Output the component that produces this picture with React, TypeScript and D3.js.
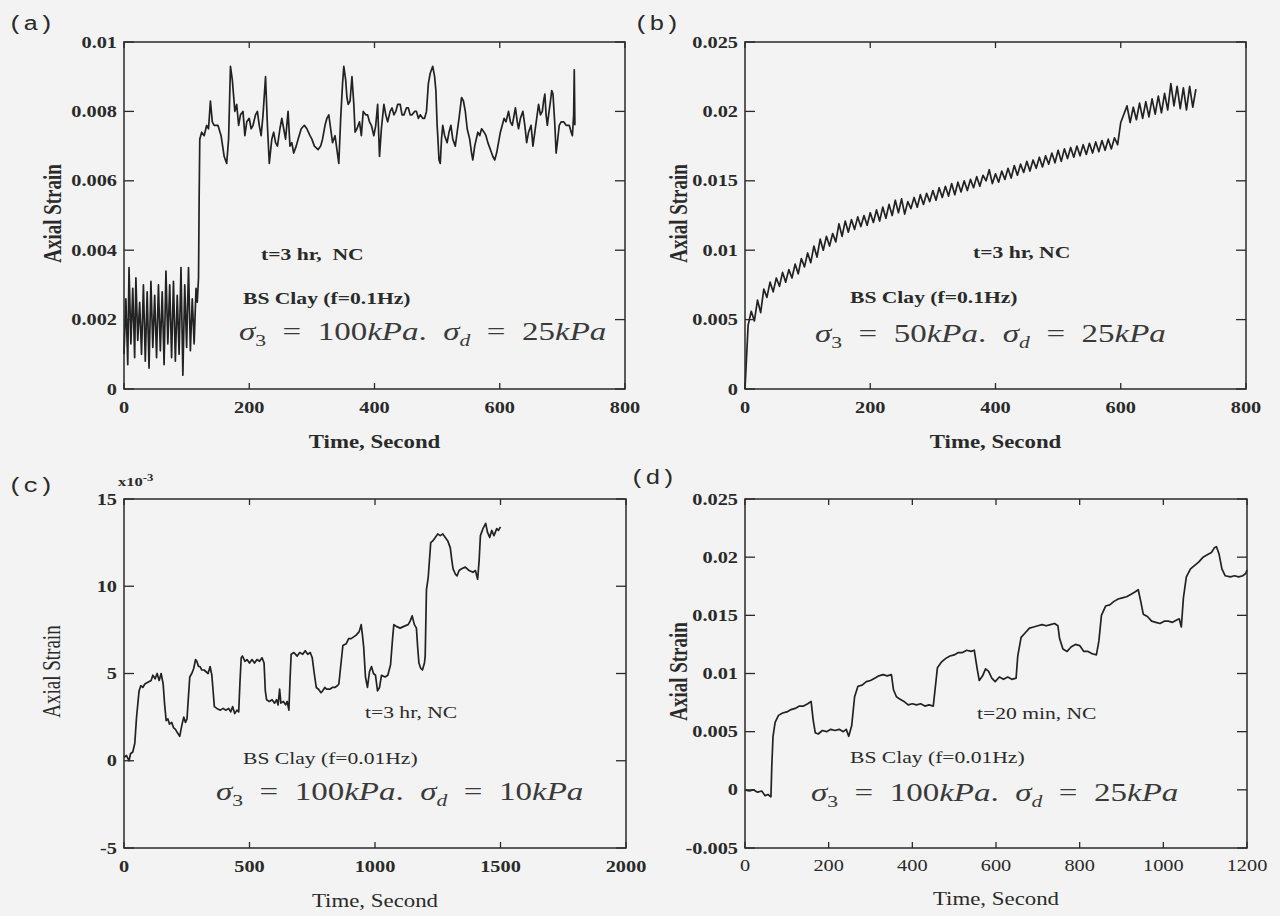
import React from 'react';
import * as d3 from 'd3';

// ---------------- DATA ----------------
// Panel (a): [time s, axial strain x1e-3]
const A_POINTS: [number, number][] = [
  [0,1.0],[3,2.6],[6,0.7],[8,3.5],[11,1.3],[14,2.9],[17,0.9],[19,3.2],[22,1.4],[25,2.5],[28,1.0],[31,3.0],[34,0.8],[37,2.8],[40,0.6],[43,3.1],[46,1.2],[49,2.7],[52,0.9],[55,3.0],[58,1.1],[61,2.8],[64,0.7],[67,3.4],[70,1.3],[73,3.0],[76,0.9],[79,3.1],[82,0.8],[85,2.7],[88,1.0],[91,3.5],[94,0.4],[97,3.0],[100,1.2],[103,3.5],[106,1.1],[109,2.6],[112,1.3],[115,2.9],[117,2.5],[119,3.2],[120,5.5],[121,7.2],[124,7.4],[128,7.3],[132,7.6],[135,7.5],[138,8.3],[141,7.7],[144,7.6],[150,7.6],[155,7.3],[160,6.7],[164,6.5],[167,7.2],[170,9.3],[173,8.9],[177,8.0],[180,8.2],[183,7.6],[186,7.9],[190,8.0],[193,7.3],[196,7.7],[200,7.8],[203,7.5],[206,7.6],[210,7.9],[213,8.0],[216,7.6],[219,7.3],[222,7.9],[226,9.0],[229,7.6],[232,6.5],[236,7.2],[239,7.4],[242,7.1],[245,7.0],[249,7.5],[252,7.8],[255,7.5],[258,7.2],[262,8.0],[265,7.0],[268,7.1],[271,6.8],[275,7.0],[278,7.2],[283,7.5],[288,7.6],[292,7.5],[297,7.3],[300,7.2],[304,7.0],[310,6.9],[314,7.0],[317,7.2],[321,7.6],[324,7.8],[327,7.9],[330,7.5],[333,7.1],[337,7.3],[340,6.9],[343,6.5],[346,7.8],[349,8.8],[351,9.3],[354,8.9],[356,8.4],[358,8.2],[361,8.3],[364,9.0],[367,8.2],[369,7.4],[372,7.5],[376,7.7],[379,7.3],[382,8.0],[386,7.9],[389,7.9],[392,7.7],[395,7.6],[399,7.3],[402,7.6],[405,8.2],[408,6.7],[411,7.5],[415,8.2],[418,7.9],[421,7.7],[425,8.0],[428,8.1],[431,7.9],[434,8.0],[437,8.2],[441,8.2],[444,7.9],[447,7.9],[451,8.1],[454,8.1],[457,7.9],[460,7.9],[464,8.0],[467,8.0],[470,7.8],[473,7.9],[477,7.8],[480,7.8],[483,8.0],[486,8.8],[489,9.1],[493,9.3],[496,9.0],[498,8.6],[500,7.6],[501,7.3],[503,6.6],[505,6.5],[507,7.2],[509,7.6],[512,7.3],[516,7.1],[519,7.4],[522,7.6],[525,7.2],[529,7.0],[532,7.4],[535,7.8],[539,8.4],[542,8.3],[545,8.0],[548,7.5],[552,7.2],[555,6.8],[557,6.6],[560,7.0],[565,7.4],[568,7.3],[571,7.5],[575,7.4],[578,7.3],[581,7.1],[585,6.9],[589,6.7],[592,6.6],[595,6.8],[598,7.1],[601,7.4],[604,7.6],[607,7.8],[610,7.7],[614,8.0],[617,7.7],[620,7.6],[623,7.9],[625,8.1],[628,7.7],[630,7.5],[633,7.8],[637,8.0],[640,7.6],[643,7.1],[646,7.4],[650,7.6],[653,7.0],[656,7.4],[659,7.8],[662,8.2],[665,7.9],[668,8.0],[670,8.3],[672,8.5],[674,7.9],[676,7.6],[678,7.9],[681,8.3],[683,8.6],[685,8.5],[688,7.6],[690,6.8],[692,7.1],[695,7.6],[698,7.7],[702,7.7],[706,7.6],[711,7.6],[714,7.4],[716,7.3],[718,7.9],[719,9.2],[720,7.6]
];

// Panel (b): [time s, axial strain x1e-3]
const B_POINTS: [number, number][] = [
  [0,0.0],[5,4.6],[10,5.6],[15,4.9],[20,6.4],[25,5.5],[30,7.2],[35,6.6],[40,7.7],[45,7.0],[50,8.0],[55,7.4],[60,8.4],[65,7.7],[70,8.6],[75,8.0],[80,9.0],[85,8.3],[90,9.4],[95,8.8],[100,9.8],[105,9.1],[110,10.3],[115,9.5],[120,10.8],[125,10.0],[130,11.0],[135,10.3],[140,11.2],[145,10.6],[150,11.9],[155,11.0],[160,12.1],[165,11.3],[170,12.2],[175,11.5],[180,12.4],[185,11.7],[190,12.5],[195,11.8],[200,12.7],[205,12.0],[210,12.9],[215,12.1],[220,13.1],[225,12.3],[230,13.3],[235,12.5],[240,13.6],[245,12.7],[250,13.7],[255,12.6],[260,13.5],[265,13.0],[270,13.8],[275,13.1],[280,14.0],[285,13.3],[290,14.1],[295,13.5],[300,14.3],[305,13.6],[310,14.5],[315,13.8],[320,14.6],[325,13.9],[330,14.8],[335,14.0],[340,14.9],[345,14.2],[350,15.0],[355,14.3],[360,15.1],[365,14.5],[370,15.3],[375,14.6],[380,15.4],[385,15.0],[390,15.8],[395,14.8],[400,15.5],[405,14.9],[410,15.7],[415,15.1],[420,15.9],[425,15.2],[430,16.1],[435,15.4],[440,16.2],[445,15.6],[450,16.4],[455,15.7],[460,16.5],[465,15.9],[470,16.7],[475,16.0],[480,16.8],[485,16.2],[490,17.0],[495,16.3],[500,17.2],[505,16.4],[510,17.3],[515,16.6],[520,17.4],[525,16.7],[530,17.5],[535,16.8],[540,17.6],[545,16.9],[550,17.7],[555,17.0],[560,17.8],[565,17.1],[570,17.9],[575,17.2],[580,18.0],[585,17.3],[590,18.1],[595,17.6],[600,19.2],[605,19.8],[610,20.4],[615,19.2],[620,20.3],[625,19.4],[630,20.6],[635,19.5],[640,20.7],[645,19.6],[650,20.9],[655,19.8],[660,21.1],[665,19.9],[670,21.3],[675,20.1],[680,22.0],[685,20.4],[690,21.8],[695,20.2],[700,21.7],[705,20.1],[710,21.8],[715,20.3],[720,21.6]
];

// Panel (c): [time s, axial strain x1e-3]
const C_POINTS: [number, number][] = [
  [0,0.2],[10,0.3],[20,0.0],[26,0.4],[35,0.5],[43,1.0],[50,2.5],[60,4.0],[67,4.3],[75,4.2],[83,4.4],[95,4.5],[108,4.6],[115,4.9],[124,4.7],[132,5.0],[140,4.6],[148,5.0],[156,4.4],[162,3.2],[168,2.3],[175,2.4],[181,2.1],[190,2.2],[197,1.9],[205,1.8],[213,1.6],[222,1.4],[230,2.0],[238,2.5],[245,2.2],[251,2.4],[256,3.5],[262,4.8],[270,5.0],[278,5.3],[285,5.8],[290,5.7],[297,5.4],[303,5.4],[310,5.2],[319,5.2],[327,5.1],[335,5.0],[343,5.4],[350,4.9],[355,4.0],[360,3.1],[370,3.0],[384,2.9],[395,3.0],[405,2.9],[417,3.0],[425,2.8],[433,3.1],[441,2.7],[450,2.9],[457,2.8],[462,4.5],[467,5.9],[472,6.0],[482,5.7],[490,5.8],[500,5.6],[510,5.8],[520,5.6],[530,5.8],[540,5.7],[550,5.9],[558,5.6],[563,4.0],[568,3.5],[579,3.4],[590,3.5],[600,3.3],[608,3.5],[614,3.2],[620,4.1],[625,3.3],[635,3.4],[644,3.2],[650,3.4],[657,2.9],[661,4.5],[666,6.1],[677,6.2],[690,6.0],[700,6.2],[712,6.1],[722,6.3],[732,6.1],[742,6.2],[750,5.9],[758,5.0],[766,4.2],[775,4.1],[785,3.9],[791,4.0],[800,4.2],[807,4.1],[820,4.1],[830,4.2],[840,4.2],[850,4.3],[856,4.4],[864,5.5],[872,6.6],[885,6.7],[895,7.0],[905,7.0],[915,7.1],[925,7.2],[937,7.4],[945,7.8],[950,7.2],[955,6.5],[962,4.8],[970,4.2],[978,5.1],[986,5.4],[994,5.0],[1002,4.9],[1010,4.0],[1018,4.2],[1026,4.9],[1040,4.8],[1051,4.9],[1062,5.5],[1070,7.0],[1075,7.8],[1085,7.7],[1100,7.6],[1115,7.7],[1132,7.8],[1140,8.0],[1148,8.3],[1157,7.8],[1165,7.6],[1170,6.5],[1175,5.6],[1182,5.3],[1189,5.2],[1197,5.6],[1200,6.0],[1205,9.8],[1212,10.5],[1222,12.5],[1230,12.6],[1240,12.8],[1250,13.0],[1260,12.9],[1270,13.0],[1280,12.8],[1290,12.6],[1300,12.2],[1306,11.5],[1311,11.0],[1320,10.7],[1327,10.6],[1335,10.9],[1345,11.0],[1360,11.1],[1375,10.9],[1390,10.8],[1400,10.9],[1409,10.4],[1415,11.5],[1420,12.9],[1430,13.3],[1441,13.6],[1448,13.1],[1457,12.8],[1465,13.2],[1474,12.9],[1485,13.3],[1492,13.2],[1500,13.4]
];

// Panel (d): [time s, axial strain x1e-3]
const D_POINTS: [number, number][] = [
  [0,0.0],[10,-0.1],[20,0.0],[30,-0.2],[40,-0.1],[48,-0.5],[55,-0.4],[62,-0.6],[64,2.0],[67,4.6],[72,5.8],[80,6.4],[90,6.6],[100,6.7],[110,6.9],[120,7.0],[130,7.2],[140,7.2],[150,7.4],[158,7.6],[163,6.0],[168,4.9],[175,4.8],[185,5.1],[195,5.0],[205,5.2],[215,5.1],[225,5.2],[235,5.0],[242,5.2],[248,4.6],[255,5.5],[262,8.0],[270,8.9],[280,9.0],[290,9.3],[300,9.4],[310,9.6],[320,9.8],[330,9.9],[340,9.8],[350,9.9],[355,8.6],[362,8.0],[370,7.8],[380,7.6],[390,7.3],[400,7.4],[410,7.3],[420,7.4],[430,7.2],[440,7.3],[450,7.2],[454,8.5],[460,10.5],[470,11.0],[480,11.3],[490,11.5],[500,11.6],[510,11.8],[520,11.8],[530,12.0],[540,11.9],[548,12.0],[555,10.4],[560,9.4],[568,9.8],[575,10.4],[582,10.2],[590,9.6],[598,9.3],[608,9.7],[618,9.5],[628,9.7],[638,9.5],[648,9.6],[652,11.5],[660,13.1],[670,13.5],[680,13.9],[690,14.0],[700,14.1],[710,14.2],[720,14.1],[730,14.2],[740,14.3],[748,14.1],[752,13.0],[760,12.1],[770,11.9],[780,12.3],[790,12.5],[800,12.4],[810,11.9],[820,11.9],[830,11.7],[840,11.6],[846,12.8],[852,15.0],[862,15.8],[872,15.9],[882,16.2],[892,16.4],[902,16.5],[912,16.6],[922,16.8],[932,17.0],[940,17.2],[946,16.2],[952,15.1],[962,14.9],[972,14.5],[982,14.4],[992,14.3],[1002,14.5],[1012,14.5],[1022,14.4],[1032,14.6],[1038,14.7],[1043,14.0],[1048,16.5],[1055,18.3],[1065,19.0],[1075,19.3],[1085,19.6],[1095,20.0],[1105,20.2],[1115,20.4],[1122,20.8],[1127,20.9],[1133,20.3],[1140,19.0],[1148,18.4],[1160,18.3],[1170,18.4],[1180,18.3],[1190,18.4],[1197,18.6],[1200,18.9]
];

// Ticks
const A_X_TICKS = [0, 200, 400, 600, 800];
const A_Y_TICKS = [0, 0.002, 0.004, 0.006, 0.008, 0.01];
const A_Y_LABELS = ['0', '0.002', '0.004', '0.006', '0.008', '0.01'];
const B_X_TICKS = [0, 200, 400, 600, 800];
const B_Y_TICKS = [0, 0.005, 0.01, 0.015, 0.02, 0.025];
const B_Y_LABELS = ['0', '0.005', '0.01', '0.015', '0.02', '0.025'];
const C_X_TICKS = [0, 500, 1000, 1500, 2000];
const C_Y_TICKS = [-0.005, 0, 0.005, 0.01, 0.015];
const C_Y_LABELS = ['-5', '0', '5', '10', '15'];
const D_X_TICKS = [0, 200, 400, 600, 800, 1000, 1200];
const D_Y_TICKS = [-0.005, 0, 0.005, 0.01, 0.015, 0.02, 0.025];
const D_Y_LABELS = ['-0.005', '0', '0.005', '0.01', '0.015', '0.02', '0.025'];

// Annotations
const PANEL_LETTERS = ['(a)', '(b)', '(c)', '(d)'];
const TEST_NOTES = ['t=3 hr,  NC', 't=3 hr, NC', 't=3 hr, NC', 't=20 min, NC'];
const CLAY_NOTES = ['BS Clay (f=0.1Hz)', 'BS Clay (f=0.1Hz)', 'BS Clay (f=0.01Hz)', 'BS Clay (f=0.01Hz)'];
const SIGMA3 = ['100', '50', '100', '100'];
const SIGMAD = ['25', '25', '10', '25'];
const X_TITLE = 'Time, Second';
const Y_TITLE = 'Axial Strain';

// ---------------- STYLE ----------------
const SX = 1.27; // horizontal stretch of the scanned figure's lettering
const INK = '#2a2a2a';
const BG = '#f3f3f3';
const SERIF = '"Liberation Serif", "Times New Roman", serif';
const MONO = '"Liberation Mono", "Courier New", monospace';

type Cfg = {
  left: number; right: number; top: number; bottom: number;
  xDomain: [number, number]; yDomain: [number, number];
  xTicks: number[]; yTicks: number[]; yLabels: string[];
  points: [number, number][];
  letter: string; letterX: number; letterY: number;
  yTitleX: number;
  note: string; noteX: number; noteY: number;
  clay: string; clayX: number; clayY: number;
  s3: string; sd: string; mathX: number; mathY: number;
  xLabY: number; xTitleY: number;
  tickBold: boolean; xTickBold: boolean; yTitleBold: boolean; xTitleBold: boolean; noteBold: boolean;
  exponent?: boolean;
};

const TOP_T = 42, TOP_B = 389, BOT_T = 499, BOT_B = 848;

const PANELS: Cfg[] = [
  {
    left: 124, right: 625, top: TOP_T, bottom: TOP_B, xDomain: [0, 800], yDomain: [0, 0.01],
    xTicks: A_X_TICKS, yTicks: A_Y_TICKS, yLabels: A_Y_LABELS, points: A_POINTS,
    letter: PANEL_LETTERS[0], letterX: 8, letterY: 30, yTitleX: 53,
    note: TEST_NOTES[0], noteX: 261, noteY: 260, clay: CLAY_NOTES[0], clayX: 243, clayY: 304,
    s3: SIGMA3[0], sd: SIGMAD[0], mathX: 239, mathY: 340, xLabY: 413, xTitleY: 448,
    tickBold: true, xTickBold: true, yTitleBold: true, xTitleBold: true, noteBold: true,
  },
  {
    left: 745, right: 1246, top: TOP_T, bottom: TOP_B, xDomain: [0, 800], yDomain: [0, 0.025],
    xTicks: B_X_TICKS, yTicks: B_Y_TICKS, yLabels: B_Y_LABELS, points: B_POINTS,
    letter: PANEL_LETTERS[1], letterX: 634, letterY: 30, yTitleX: 679,
    note: TEST_NOTES[1], noteX: 973, noteY: 258, clay: CLAY_NOTES[1], clayX: 850, clayY: 303,
    s3: SIGMA3[1], sd: SIGMAD[1], mathX: 815, mathY: 342, xLabY: 413, xTitleY: 448,
    tickBold: true, xTickBold: true, yTitleBold: true, xTitleBold: true, noteBold: true,
  },
  {
    left: 124, right: 626, top: BOT_T, bottom: BOT_B, xDomain: [0, 2000], yDomain: [-0.005, 0.015],
    xTicks: C_X_TICKS, yTicks: C_Y_TICKS, yLabels: C_Y_LABELS, points: C_POINTS,
    letter: PANEL_LETTERS[2], letterX: 8, letterY: 492, yTitleX: 52,
    note: TEST_NOTES[2], noteX: 365, noteY: 718, clay: CLAY_NOTES[2], clayX: 243, clayY: 764,
    s3: SIGMA3[2], sd: SIGMAD[2], mathX: 216, mathY: 800, xLabY: 872, xTitleY: 907,
    tickBold: true, xTickBold: true, yTitleBold: false, xTitleBold: false, noteBold: false, exponent: true,
  },
  {
    left: 745, right: 1247, top: BOT_T, bottom: BOT_B, xDomain: [0, 1200], yDomain: [-0.005, 0.025],
    xTicks: D_X_TICKS, yTicks: D_Y_TICKS, yLabels: D_Y_LABELS, points: D_POINTS,
    letter: PANEL_LETTERS[3], letterX: 630, letterY: 484, yTitleX: 679,
    note: TEST_NOTES[3], noteX: 977, noteY: 719, clay: CLAY_NOTES[3], clayX: 850, clayY: 763,
    s3: SIGMA3[3], sd: SIGMAD[3], mathX: 811, mathY: 801, xLabY: 871, xTitleY: 905,
    tickBold: true, xTickBold: false, yTitleBold: true, xTitleBold: false, noteBold: false,
  },
];

function Txt(props: {
  x: number; y: number; size: number; bold?: boolean; anchor?: string; family?: string;
  children: React.ReactNode; fill?: string;
}) {
  const { x, y, size, bold, anchor = 'start', family = SERIF, children, fill = INK } = props;
  return (
    <text
      transform={`translate(${x},${y}) scale(${SX},1)`}
      fontSize={size}
      fontWeight={bold ? 'bold' : 'normal'}
      textAnchor={anchor as any}
      fontFamily={family}
      fill={fill}
      style={{ whiteSpace: 'pre' }}
    >
      {children}
    </text>
  );
}

function Panel({ c }: { c: Cfg }) {
  const x = d3.scaleLinear().domain(c.xDomain).range([c.left, c.right]);
  const y = d3.scaleLinear().domain(c.yDomain).range([c.bottom, c.top]);
  const line = d3
    .line<[number, number]>()
    .x((d) => x(d[0]))
    .y((d) => y(d[1] * 1e-3));
  const TL = 10; // y-axis tick length
  const TLX = 6; // x-axis tick length
  return (
    <g>
      {/* data */}
      <path d={line(c.points) || ''} fill="none" stroke="#222" strokeWidth={1.7} strokeLinejoin="round" />
      {/* frame */}
      <rect x={c.left} y={c.top} width={c.right - c.left} height={c.bottom - c.top} fill="none" stroke={INK} strokeWidth={1.5} />
      {/* ticks */}
      {c.yTicks.map((t, i) => (
        <g key={'y' + i}>
          <line x1={c.left} x2={c.left + TL} y1={y(t)} y2={y(t)} stroke={INK} strokeWidth={1.3} />
          <line x1={c.right} x2={c.right - TL} y1={y(t)} y2={y(t)} stroke={INK} strokeWidth={1.3} />
          <Txt x={c.left - 7} y={y(t) + 5.5} size={16} bold={c.tickBold} anchor="end">{c.yLabels[i]}</Txt>
        </g>
      ))}
      {c.xTicks.map((t, i) => (
        <g key={'x' + i}>
          <line x1={x(t)} x2={x(t)} y1={c.bottom} y2={c.bottom - TLX} stroke={INK} strokeWidth={1.3} />
          <line x1={x(t)} x2={x(t)} y1={c.top} y2={c.top + TLX} stroke={INK} strokeWidth={1.3} />
          <Txt x={x(t)} y={c.xLabY} size={16} bold={c.xTickBold} anchor="middle">{String(t)}</Txt>
        </g>
      ))}
      {c.exponent && (
        <text transform={`translate(${c.left - 6},${c.top - 13}) scale(${SX},1)`} fontFamily={SERIF} fontWeight="bold" fill={INK}>
          <tspan fontSize={13}>x10</tspan>
          <tspan fontSize={10} dy={-5}>-3</tspan>
        </text>
      )}
      {/* titles */}
      <Txt x={(c.left + c.right) / 2} y={c.xTitleY} size={18} bold={c.xTitleBold} anchor="middle">{X_TITLE}</Txt>
      <text
        transform={`translate(${c.yTitleX},${(c.top + c.bottom) / 2 - 2}) scale(${SX},1) rotate(-90)`}
        fontSize={19}
        fontWeight={c.yTitleBold ? 'bold' : 'normal'}
        textAnchor="middle"
        dy="0.35em"
        fontFamily={SERIF}
        fill={INK}
      >
        {Y_TITLE}
      </text>
      {/* panel letter */}
      <Txt x={c.letterX} y={c.letterY} size={20} family={MONO}>{c.letter}</Txt>
      {/* annotations */}
      <Txt x={c.noteX} y={c.noteY} size={17} bold={c.noteBold}>{c.note}</Txt>
      <Txt x={c.clayX} y={c.clayY} size={17} bold={c.noteBold}>{c.clay}</Txt>
      <text
        transform={`translate(${c.mathX},${c.mathY}) scale(${SX},1)`}
        fontSize={26}
        fontFamily={SERIF}
        fill="#3a3a3a"
        style={{ whiteSpace: 'pre' }}
      >
        <tspan fontStyle="italic">σ</tspan>
        <tspan fontSize={17} dy={6}>3</tspan>
        <tspan dy={-6}>{`  =  ${c.s3}`}</tspan>
        <tspan fontStyle="italic">kPa</tspan>
        <tspan>{'.  '}</tspan>
        <tspan fontStyle="italic">σ</tspan>
        <tspan fontStyle="italic" fontSize={17} dy={6}>d</tspan>
        <tspan dy={-6}>{`  =  ${c.sd}`}</tspan>
        <tspan fontStyle="italic">kPa</tspan>
      </text>
    </g>
  );
}

export default function App() {
  return (
    <svg
      width={1280}
      height={916}
      viewBox="0 0 1280 916"
      style={{ position: 'absolute', left: 0, top: 0, display: 'block' }}
    >
      <rect x={0} y={0} width={1280} height={916} fill={BG} />
      {PANELS.map((c, i) => (
        <Panel key={i} c={c} />
      ))}
    </svg>
  );
}
